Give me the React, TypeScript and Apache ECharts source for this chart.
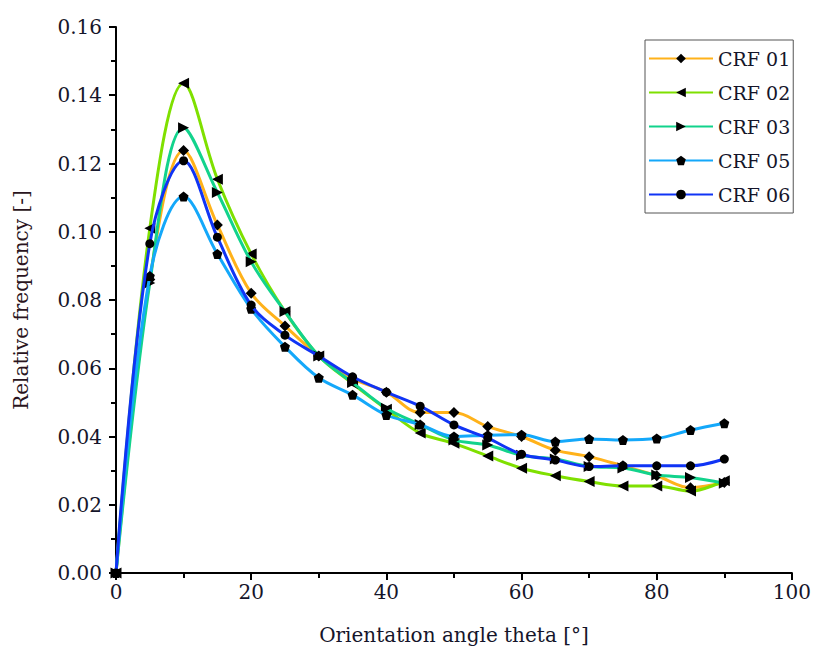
import React, { useEffect, useRef } from "react";
import * as echarts from "echarts";

const angles = [0, 5, 10, 15, 20, 25, 30, 35, 40, 45, 50, 55, 60, 65, 70, 75, 80, 85, 90];
const seriesNames = ["CRF 01", "CRF 02", "CRF 03", "CRF 05", "CRF 06"];
const crf01 = [0, 0.086, 0.1238, 0.102, 0.082, 0.0724, 0.0636, 0.057, 0.053, 0.047, 0.047, 0.0429, 0.040, 0.036, 0.0341, 0.0314, 0.0285, 0.025, 0.0265];
const crf02 = [0, 0.101, 0.1435, 0.1154, 0.0935, 0.0766, 0.0636, 0.0555, 0.048, 0.041, 0.038, 0.0343, 0.0307, 0.0285, 0.0268, 0.0255, 0.0255, 0.024, 0.027];
const crf03 = [0, 0.085, 0.1305, 0.1115, 0.0912, 0.0766, 0.0636, 0.0558, 0.0483, 0.0435, 0.039, 0.0375, 0.0345, 0.0334, 0.0312, 0.0308, 0.0287, 0.028, 0.0263];
const crf05 = [0, 0.087, 0.1103, 0.0935, 0.0774, 0.0663, 0.0572, 0.0522, 0.0463, 0.0435, 0.040, 0.0404, 0.0405, 0.0385, 0.0393, 0.039, 0.0394, 0.0419, 0.0439];
const crf06 = [0, 0.0965, 0.1208, 0.0984, 0.0785, 0.0697, 0.0636, 0.0575, 0.053, 0.0489, 0.0434, 0.0395, 0.0348, 0.0331, 0.0312, 0.0314, 0.0314, 0.0314, 0.0334];
const xTicks = { min: 0, max: 100, interval: 20 };
const yTicks = { min: 0, max: 0.16, interval: 0.02 };

const colors = ["#FFB21A", "#7FE000", "#12D38C", "#14A8FA", "#1034F5"];
const pentagon = "path://M0,-1 L0.951,-0.309 L0.588,0.809 L-0.588,0.809 L-0.951,-0.309 Z";
const symbols = [
  { symbol: "diamond", size: 11, rotate: 0 },
  { symbol: "triangle", size: 11, rotate: 90 },
  { symbol: "triangle", size: 11, rotate: -90 },
  { symbol: pentagon, size: 10, rotate: 0 },
  { symbol: "circle", size: 9, rotate: 0 },
];

const FONT = "DejaVu Serif";
const TEXT = "#15152a";

export default function App() {
  const ref = useRef<HTMLDivElement>(null);
  useEffect(() => {
    if (!ref.current) return;
    const chart = echarts.init(ref.current, undefined, { renderer: "svg" });
    const all = [crf01, crf02, crf03, crf05, crf06];
    chart.setOption({
      animation: false,
      backgroundColor: "#ffffff",
      grid: { left: 116, right: 20, top: 27, bottom: 82, containLabel: false },
      legend: {
        left: 645,
        top: 40,
        orient: "vertical",
        padding: [9, 3, 9, 3],
        itemGap: 15,
        itemWidth: 64,
        itemHeight: 12,
        borderColor: "#555555",
        borderWidth: 1,
        textStyle: { fontFamily: FONT, fontSize: 19, color: TEXT, padding: [0, 0, 0, 0] },
        data: seriesNames,
      },
      xAxis: {
        type: "value",
        min: xTicks.min,
        max: xTicks.max,
        interval: xTicks.interval,
        name: "Orientation angle theta [°]",
        nameLocation: "middle",
        nameGap: 52,
        nameTextStyle: { fontFamily: FONT, fontSize: 20, color: TEXT },
        axisLine: { show: true, lineStyle: { color: "#000", width: 2 } },
        axisTick: { show: true, inside: false, length: 7, lineStyle: { color: "#000", width: 2 } },
        minorTick: { show: true, splitNumber: 2, length: 5, lineStyle: { color: "#000", width: 2 } },
        axisLabel: { fontFamily: FONT, fontSize: 20, color: TEXT, margin: 9 },
        splitLine: { show: false },
      },
      yAxis: {
        type: "value",
        min: yTicks.min,
        max: yTicks.max,
        interval: yTicks.interval,
        name: "Relative frequency [-]",
        nameLocation: "middle",
        nameGap: 85,
        nameTextStyle: { fontFamily: FONT, fontSize: 20, color: "#2a1420" },
        axisLine: { show: true, lineStyle: { color: "#000", width: 2 } },
        axisTick: { show: true, inside: false, length: 7, lineStyle: { color: "#000", width: 2 } },
        minorTick: { show: true, splitNumber: 2, length: 5, lineStyle: { color: "#000", width: 2 } },
        axisLabel: {
          fontFamily: FONT,
          fontSize: 20,
          color: TEXT,
          margin: 14,
          formatter: (v: number) => v.toFixed(2),
        },
        splitLine: { show: false },
      },
      series: seriesNames.map((name, i) => ({
        name,
        type: "line",
        smooth: 0.35,
        data: angles.map((a, j) => [a, all[i][j]]),
        symbol: symbols[i].symbol,
        symbolSize: symbols[i].size,
        symbolRotate: symbols[i].rotate,
        showAllSymbol: true,
        lineStyle: { color: colors[i], width: 3 },
        itemStyle: { color: "#000000", borderWidth: 0 },
        color: colors[i],
        z: 2 + i,
      })),
    });
    return () => chart.dispose();
  }, []);
  return (
    <div
      ref={ref}
      style={{ position: "fixed", left: 0, top: 0, width: 814, height: 655, background: "#fff" }}
    />
  );
}
